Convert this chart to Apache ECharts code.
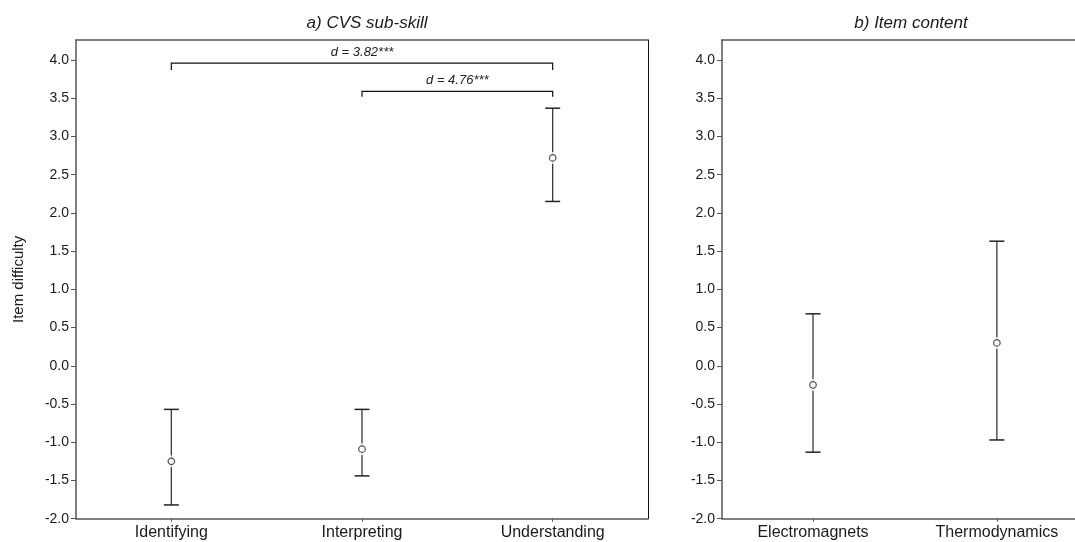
<!DOCTYPE html>
<html>
<head>
<meta charset="utf-8">
<script src="https://cdn.jsdelivr.net/npm/echarts@6/dist/echarts.min.js"></script>
<style>
  html, body { margin: 0; padding: 0; background: #fff; }
  #chart { width: 1075px; height: 542px; }
</style>
</head>
<body>
<div id="chart"></div>
<script>
// Panel a: item difficulty by CVS sub-skill (mean with 95% interval)
const categoriesA = ['Identifying', 'Interpreting', 'Understanding'];
const meanA  = [-1.25, -1.09, 2.72];
const lowerA = [-1.82, -1.44, 2.15];
const upperA = [-0.57, -0.57, 3.37];

// Panel b: item difficulty by item content
const categoriesB = ['Electromagnets', 'Thermodynamics'];
const meanB  = [-0.25, 0.30];
const lowerB = [-1.13, -0.97];
const upperB = [0.68, 1.63];

// Pairwise effect sizes shown as brackets in panel a
const bracketFrom = [0, 1];
const bracketTo   = [2, 2];
const bracketY    = [3.96, 3.59];
const bracketEnd  = [3.87, 3.52];
const bracketText = ['d = 3.82***', 'd = 4.76***'];

const yTicks = [-2.0, -1.5, -1.0, -0.5, 0.0, 0.5, 1.0, 1.5, 2.0, 2.5, 3.0, 3.5, 4.0];

const FONT = '"Liberation Sans", Arial, sans-serif';
const INK = '#1a1a1a';
const FRAME = '#555';
const Y_MIN = -2, Y_MAX = 4.262;

const chart = echarts.init(document.getElementById('chart'), null, { renderer: 'canvas' });

const frameLine = { show: true, onZero: false, lineStyle: { color: FRAME, width: 1.5 } };

function yAxisFor(gridIndex, withName) {
  const ax = {
    gridIndex, type: 'value', min: Y_MIN, max: Y_MAX,
    axisLine: frameLine,
    axisTick: { show: true, length: 5, customValues: yTicks, lineStyle: { color: FRAME, width: 1 } },
    axisLabel: { customValues: yTicks, formatter: v => v.toFixed(1), margin: 7,
                 fontSize: 14, color: INK, fontFamily: FONT },
    splitLine: { show: false }
  };
  if (withName) {
    Object.assign(ax, {
      name: 'Item difficulty', nameLocation: 'middle', nameGap: 50, nameRotate: 90,
      nameTextStyle: { fontSize: 15, color: INK, fontFamily: FONT }
    });
  }
  return ax;
}

// Category positions 0..n-1 on a value scale; the panel's x range is set per grid
function xAxisFor(gridIndex, cats, xMin, xMax) {
  const idx = cats.map((c, i) => i);
  return {
    gridIndex, type: 'value', min: xMin, max: xMax,
    axisLine: frameLine,
    axisTick: { show: true, length: 3, customValues: idx, lineStyle: { color: FRAME } },
    axisLabel: { customValues: idx, formatter: v => cats[Math.round(v)],
                 fontSize: 16, color: INK, fontFamily: FONT, margin: 6 },
    splitLine: { show: false }
  };
}

function topEdge(gridIndex, xMin, xMax) {
  return {
    gridIndex, type: 'value', position: 'top', min: xMin, max: xMax,
    axisLine: frameLine, axisTick: { show: false }, axisLabel: { show: false }, splitLine: { show: false }
  };
}

function errorBarSeries(idx, lower, upper) {
  return {
    type: 'custom', xAxisIndex: idx, yAxisIndex: idx, z: 2,
    data: lower.map((lo, i) => [i, lo, upper[i]]),
    renderItem: (params, api) => {
      const lo = api.coord([api.value(0), api.value(1)]);
      const hi = api.coord([api.value(0), api.value(2)]);
      const cap = 7.5;
      return {
        type: 'group',
        children: [
          { type: 'line', shape: { x1: hi[0], y1: hi[1], x2: lo[0], y2: lo[1] },
            style: { stroke: '#3a3a3a', lineWidth: 1.3 } },
          { type: 'line', shape: { x1: hi[0] - cap, y1: hi[1], x2: hi[0] + cap, y2: hi[1] },
            style: { stroke: '#222', lineWidth: 1.5 } },
          { type: 'line', shape: { x1: lo[0] - cap, y1: lo[1], x2: lo[0] + cap, y2: lo[1] },
            style: { stroke: '#222', lineWidth: 1.5 } }
        ]
      };
    }
  };
}

function pointSeries(idx, means) {
  return [
    { // white halo that opens a gap in the whisker around each mean
      type: 'scatter', xAxisIndex: idx, yAxisIndex: idx, z: 3, silent: true,
      data: means.map((m, i) => [i, m]), symbol: 'circle', symbolSize: 12,
      itemStyle: { color: '#fff', borderWidth: 0 }
    },
    {
      type: 'scatter', xAxisIndex: idx, yAxisIndex: idx, z: 4,
      data: means.map((m, i) => [i, m]), symbol: 'circle', symbolSize: 6.5,
      itemStyle: { color: '#fff', borderColor: '#222', borderWidth: 1.2 }
    }
  ];
}

const bracketSeries = {
  type: 'custom', xAxisIndex: 0, yAxisIndex: 0, z: 5,
  data: bracketFrom.map((f, i) => [f, bracketTo[i], bracketY[i], bracketEnd[i]]),
  renderItem: (params, api) => {
    const i = params.dataIndex;
    const a = api.coord([api.value(0), api.value(2)]);
    const b = api.coord([api.value(1), api.value(2)]);
    const aEnd = api.coord([api.value(0), api.value(3)]);
    return {
      type: 'group',
      children: [
        { type: 'polyline',
          shape: { points: [[a[0], aEnd[1]], [a[0], a[1]], [b[0], b[1]], [b[0], aEnd[1]]] },
          style: { stroke: '#111', lineWidth: 1.2, fill: null } },
        { type: 'text',
          style: { text: bracketText[i], x: (a[0] + b[0]) / 2, y: a[1] - 4,
                   align: 'center', verticalAlign: 'bottom',
                   font: 'italic 13px ' + FONT, fill: '#222' } }
      ]
    };
  }
};

// x ranges: panel a spans half a category either side; panel b runs off the right edge
const XA = [-0.5, 2.5];
const XB = [-0.495, 1.425];

const option = {
  backgroundColor: '#fff',
  animation: false,
  title: [
    { text: 'a) CVS sub-skill', left: 362, top: 10, textAlign: 'center',
      textStyle: { fontSize: 17, fontStyle: 'italic', fontWeight: 'normal', color: INK, fontFamily: FONT } },
    { text: 'b) Item content', left: 906, top: 10, textAlign: 'center',
      textStyle: { fontSize: 17, fontStyle: 'italic', fontWeight: 'normal', color: INK, fontFamily: FONT } }
  ],
  grid: [
    { left: 76, top: 40, width: 572, height: 478.7 },
    { left: 722, top: 40, width: 353, height: 478.7 }
  ],
  xAxis: [
    xAxisFor(0, categoriesA, XA[0], XA[1]),
    xAxisFor(1, categoriesB, XB[0], XB[1]),
    topEdge(0, XA[0], XA[1]),
    topEdge(1, XB[0], XB[1])
  ],
  yAxis: [
    yAxisFor(0, true),
    yAxisFor(1, false),
    { // right edge of panel a
      gridIndex: 0, type: 'value', position: 'right', min: Y_MIN, max: Y_MAX,
      axisLine: { show: true, onZero: false, lineStyle: { color: '#111', width: 1 } },
      axisTick: { show: false }, axisLabel: { show: false }, splitLine: { show: false }
    }
  ],
  series: [
    errorBarSeries(0, lowerA, upperA),
    ...pointSeries(0, meanA),
    errorBarSeries(1, lowerB, upperB),
    ...pointSeries(1, meanB),
    bracketSeries
  ]
};

chart.setOption(option);
</script>
</body>
</html>
